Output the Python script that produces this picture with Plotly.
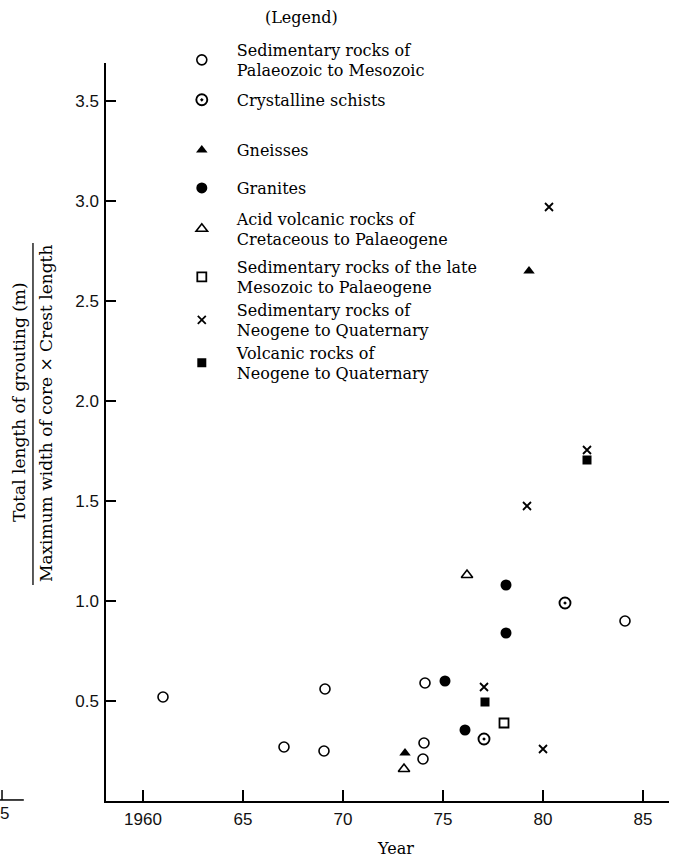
import plotly.graph_objects as go

# Grouting intensity by rock type against year of construction
series_names = [
    "Sedimentary rocks of<br>Palaeozoic to Mesozoic",
    "Crystalline schists",
    "Gneisses",
    "Granites",
    "Acid volcanic rocks of<br>Cretaceous to Palaeogene",
    "Sedimentary rocks of the late<br>Mesozoic to Palaeogene",
    "Sedimentary rocks of<br>Neogene to Quaternary",
    "Volcanic rocks of<br>Neogene to Quaternary",
]

sed_paleo_meso_year = [1961.0, 1967.05, 1969.1, 1969.05, 1974.1, 1974.05, 1974.0, 1984.1]
sed_paleo_meso_val = [0.52, 0.27, 0.56, 0.25, 0.59, 0.29, 0.21, 0.90]

schist_year = [1977.05, 1981.1]
schist_val = [0.31, 0.99]

gneiss_year = [1973.1, 1979.3]
gneiss_val = [0.24, 2.65]

granite_year = [1975.1, 1976.1, 1978.15, 1978.15]
granite_val = [0.60, 0.355, 1.08, 0.84]

acid_volc_year = [1973.05, 1976.2]
acid_volc_val = [0.16, 1.13]

sed_late_meso_year = [1978.05]
sed_late_meso_val = [0.39]

sed_neogene_year = [1977.05, 1979.2, 1980.0, 1980.3, 1982.2]
sed_neogene_val = [0.57, 1.475, 0.26, 2.97, 1.755]

volc_neogene_year = [1977.1, 1982.2]
volc_neogene_val = [0.495, 1.705]

x_tickvals = [1960, 1965, 1970, 1975, 1980, 1985]
x_ticktext = ["1960", "65", "70", "75", "80", "85"]
y_tickvals = [0.5, 1.0, 1.5, 2.0, 2.5, 3.0, 3.5]
y_ticktext = ["0.5", "1.0", "1.5", "2.0", "2.5", "3.0", "3.5"]

xs = [sed_paleo_meso_year, schist_year, gneiss_year, granite_year,
      acid_volc_year, sed_late_meso_year, sed_neogene_year, volc_neogene_year]
ys = [sed_paleo_meso_val, schist_val, gneiss_val, granite_val,
      acid_volc_val, sed_late_meso_val, sed_neogene_val, volc_neogene_val]

styles = [
    dict(symbol="circle-open", size=10, line=dict(width=1.6, color="black")),
    dict(symbol="circle-open-dot", size=11, line=dict(width=1.9, color="black")),
    dict(symbol="triangle-up", size=10, color="black", line=dict(width=0)),
    dict(symbol="circle", size=11, color="black", line=dict(width=0)),
    dict(symbol="triangle-up-open", size=10, line=dict(width=1.6, color="black")),
    dict(symbol="square-open", size=9, line=dict(width=1.8, color="black")),
    dict(symbol="x-thin-open", size=8, line=dict(width=1.8, color="black")),
    dict(symbol="square", size=9, color="black", line=dict(width=0)),
]
styles = [dict(s, color=s.get("color", "black")) for s in styles]

# vertical centre (paper units) of each legend entry
legend_y = [1.004, 0.950, 0.882, 0.8306, 0.7751, 0.710, 0.6518, 0.5935]
legend_x = 0.108

fig = go.Figure()
legend_layout = {}
for i, (name, x, y, st) in enumerate(zip(series_names, xs, ys, styles)):
    key = "legend" if i == 0 else f"legend{i + 1}"
    fig.add_trace(go.Scatter(
        x=x, y=y, mode="markers", name=name, marker=st,
        legend=key, showlegend=True,
    ))
    legend_layout[key] = dict(
        x=legend_x, y=legend_y[i], xanchor="left", yanchor="middle",
        bgcolor="rgba(0,0,0,0)", borderwidth=0, itemwidth=60,
        font=dict(family="DejaVu Serif", size=16, color="black"),
        valign="middle",
    )

axis_font = dict(family="Liberation Sans", size=17, color="#111")
serif = dict(family="DejaVu Serif", size=16, color="black")
title_font = dict(family="DejaVu Serif", size=17, color="black")

fig.update_layout(
    width=675, height=859,
    margin=dict(l=106, r=6, t=63, b=58),
    paper_bgcolor="white", plot_bgcolor="white",
    xaxis=dict(
        range=[1958.15, 1986.3], tickvals=x_tickvals, ticktext=x_ticktext,
        ticks="inside", ticklen=11, tickwidth=1.5, tickcolor="black",
        showline=True, linewidth=1.5, linecolor="black",
        showgrid=False, zeroline=False, tickfont=axis_font,
        ticklabelstandoff=2,
    ),
    yaxis=dict(
        range=[0, 3.69], tickvals=y_tickvals, ticktext=y_ticktext,
        ticks="inside", ticklen=10, tickwidth=1.5, tickcolor="black",
        showline=True, linewidth=1.5, linecolor="black",
        showgrid=False, zeroline=False, tickfont=axis_font,
        ticklabelstandoff=2,
    ),
    **legend_layout,
)

# Legend heading
fig.add_annotation(text="(Legend)", xref="paper", yref="paper",
                   x=0.348, y=1.062, xanchor="center", yanchor="middle",
                   showarrow=False, font=serif)

# x-axis title
fig.add_annotation(text="Year", xref="x", yref="paper", x=1972.6, y=-0.065,
                   xanchor="center", yanchor="middle", showarrow=False,
                   font=serif)

# y-axis title written as a fraction
fig.add_annotation(text="Total length of grouting (m)", xref="paper", yref="paper",
                   x=-0.1545, y=0.5407, textangle=-90, xanchor="center",
                   yanchor="middle", showarrow=False, font=title_font)
fig.add_annotation(text="Maximum width of core \u00d7 Crest length", xref="paper",
                   yref="paper", x=-0.1066, y=0.5257, textangle=-90,
                   xanchor="center", yanchor="middle", showarrow=False,
                   font=title_font)
fig.add_shape(type="line", xref="paper", yref="paper",
              x0=-0.1297, x1=-0.1297, y0=0.2927, y1=0.7561,
              line=dict(color="black", width=1.3))

# trailing end of the adjacent panel's axis at the far left
fig.add_shape(type="line", xref="paper", yref="paper",
              x0=-0.1883, x1=-0.146, y0=0.0014, y1=0.0014,
              line=dict(color="black", width=1.5))
fig.add_shape(type="line", xref="paper", yref="paper",
              x0=-0.1847, x1=-0.1847, y0=0.0014, y1=0.0149,
              line=dict(color="black", width=1.5))
fig.add_annotation(text="5", xref="paper", yref="paper", x=-0.1795, y=-0.0176,
                   xanchor="center", yanchor="middle", showarrow=False,
                   font=axis_font)

fig.write_html("out.html")
